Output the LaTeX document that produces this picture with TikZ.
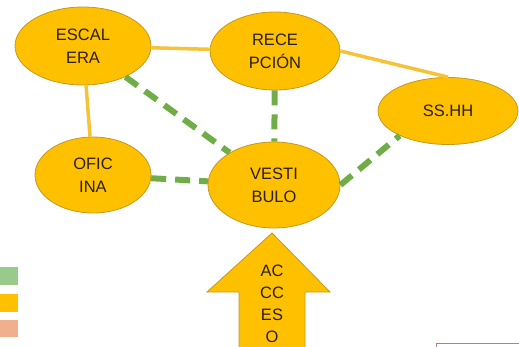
\documentclass[tikz,border=0pt]{standalone}
\usepackage{fontspec}
\setmainfont{Liberation Sans}
\usepackage{tikz}
\usetikzlibrary{shapes.geometric, positioning, calc}
\definecolor{roomfill}{RGB}{255,192,0}
\definecolor{roomdraw}{RGB}{196,152,30}
\definecolor{roomtext}{RGB}{45,32,20}
\definecolor{linkyellow}{RGB}{246,194,56}
\definecolor{linkgreen}{RGB}{112,172,72}
\definecolor{keygreen}{RGB}{152,202,140}
\definecolor{keyyellow}{RGB}{255,192,0}
\definecolor{keysalmon}{RGB}{240,176,142}
\definecolor{framebrown}{RGB}{165,135,125}
\tikzset{
  room/.style={ellipse,draw=roomdraw,fill=roomfill,line width=0.8pt,inner sep=0pt,
    align=center,text=roomtext,font=\fontsize{16.5}{23}\selectfont},
  link/.style={draw=linkyellow,line width=3.5pt},
  walk/.style={draw=linkgreen,line width=6pt,dash pattern=on 15pt off 9pt},
  keybox/.style={inner sep=0pt,minimum width=18pt,minimum height=18pt}
}
\begin{document}
\begin{tikzpicture}[x=1pt,y=-1pt]
  \useasboundingbox (0,0) rectangle (519,346);

  %% Rooms
  \node[room,minimum width=136pt,minimum height=78pt] (esc) at (83,46) {ESCAL\\ERA};
  \node[room,minimum width=130pt,minimum height=78pt] (rec) at (275,51) {RECE\\PCIÓN};
  \node[room,minimum width=140pt,minimum height=67pt] (ss) at (448,111) {SS.HH};
  \node[room,minimum width=116pt,minimum height=76pt] (ofi) at (93,175) {OFIC\\INA};
  \node[room,minimum width=132pt,minimum height=86pt] (ves) at (274,185) {VESTI\\BULO};

  %% Direct links
  \draw[link] (esc) -- (rec);
  \draw[link] (rec.east) -- (ss.north);
  \draw[link] (esc) -- (ofi);

  %% Links through the hall
  \draw[walk] (esc) -- (ves);
  \draw[walk] (rec) -- (ves);
  \draw[walk] (ofi) -- (ves);
  \draw[walk] (ves.east) -- (ss.207);

  %% Entrance arrow
  \draw[draw=roomdraw,fill=roomfill,line width=0.8pt]
    (272,233) -- (330,292) -- (305,292) -- (305,360) -- (239,360) -- (239,292) -- (207,292) -- cycle;
  \node[align=center,text=roomtext,font=\fontsize{16.5}{22}\selectfont] (acc) at (272,304) {AC\\CC\\ES\\O};

  %% Key
  \node[keybox,fill=keygreen,anchor=north west] (k1) at (0,267) {};
  \node[keybox,fill=keyyellow,below=8pt of k1] (k2) {};
  \node[keybox,fill=keysalmon,below=8pt of k2,minimum height=17pt] (k3) {};

  %% Frame corner
  \draw[framebrown,line width=1pt] (436.5,350) -- (436.5,343.5) -- (525,343.5);
\end{tikzpicture}
\end{document}
